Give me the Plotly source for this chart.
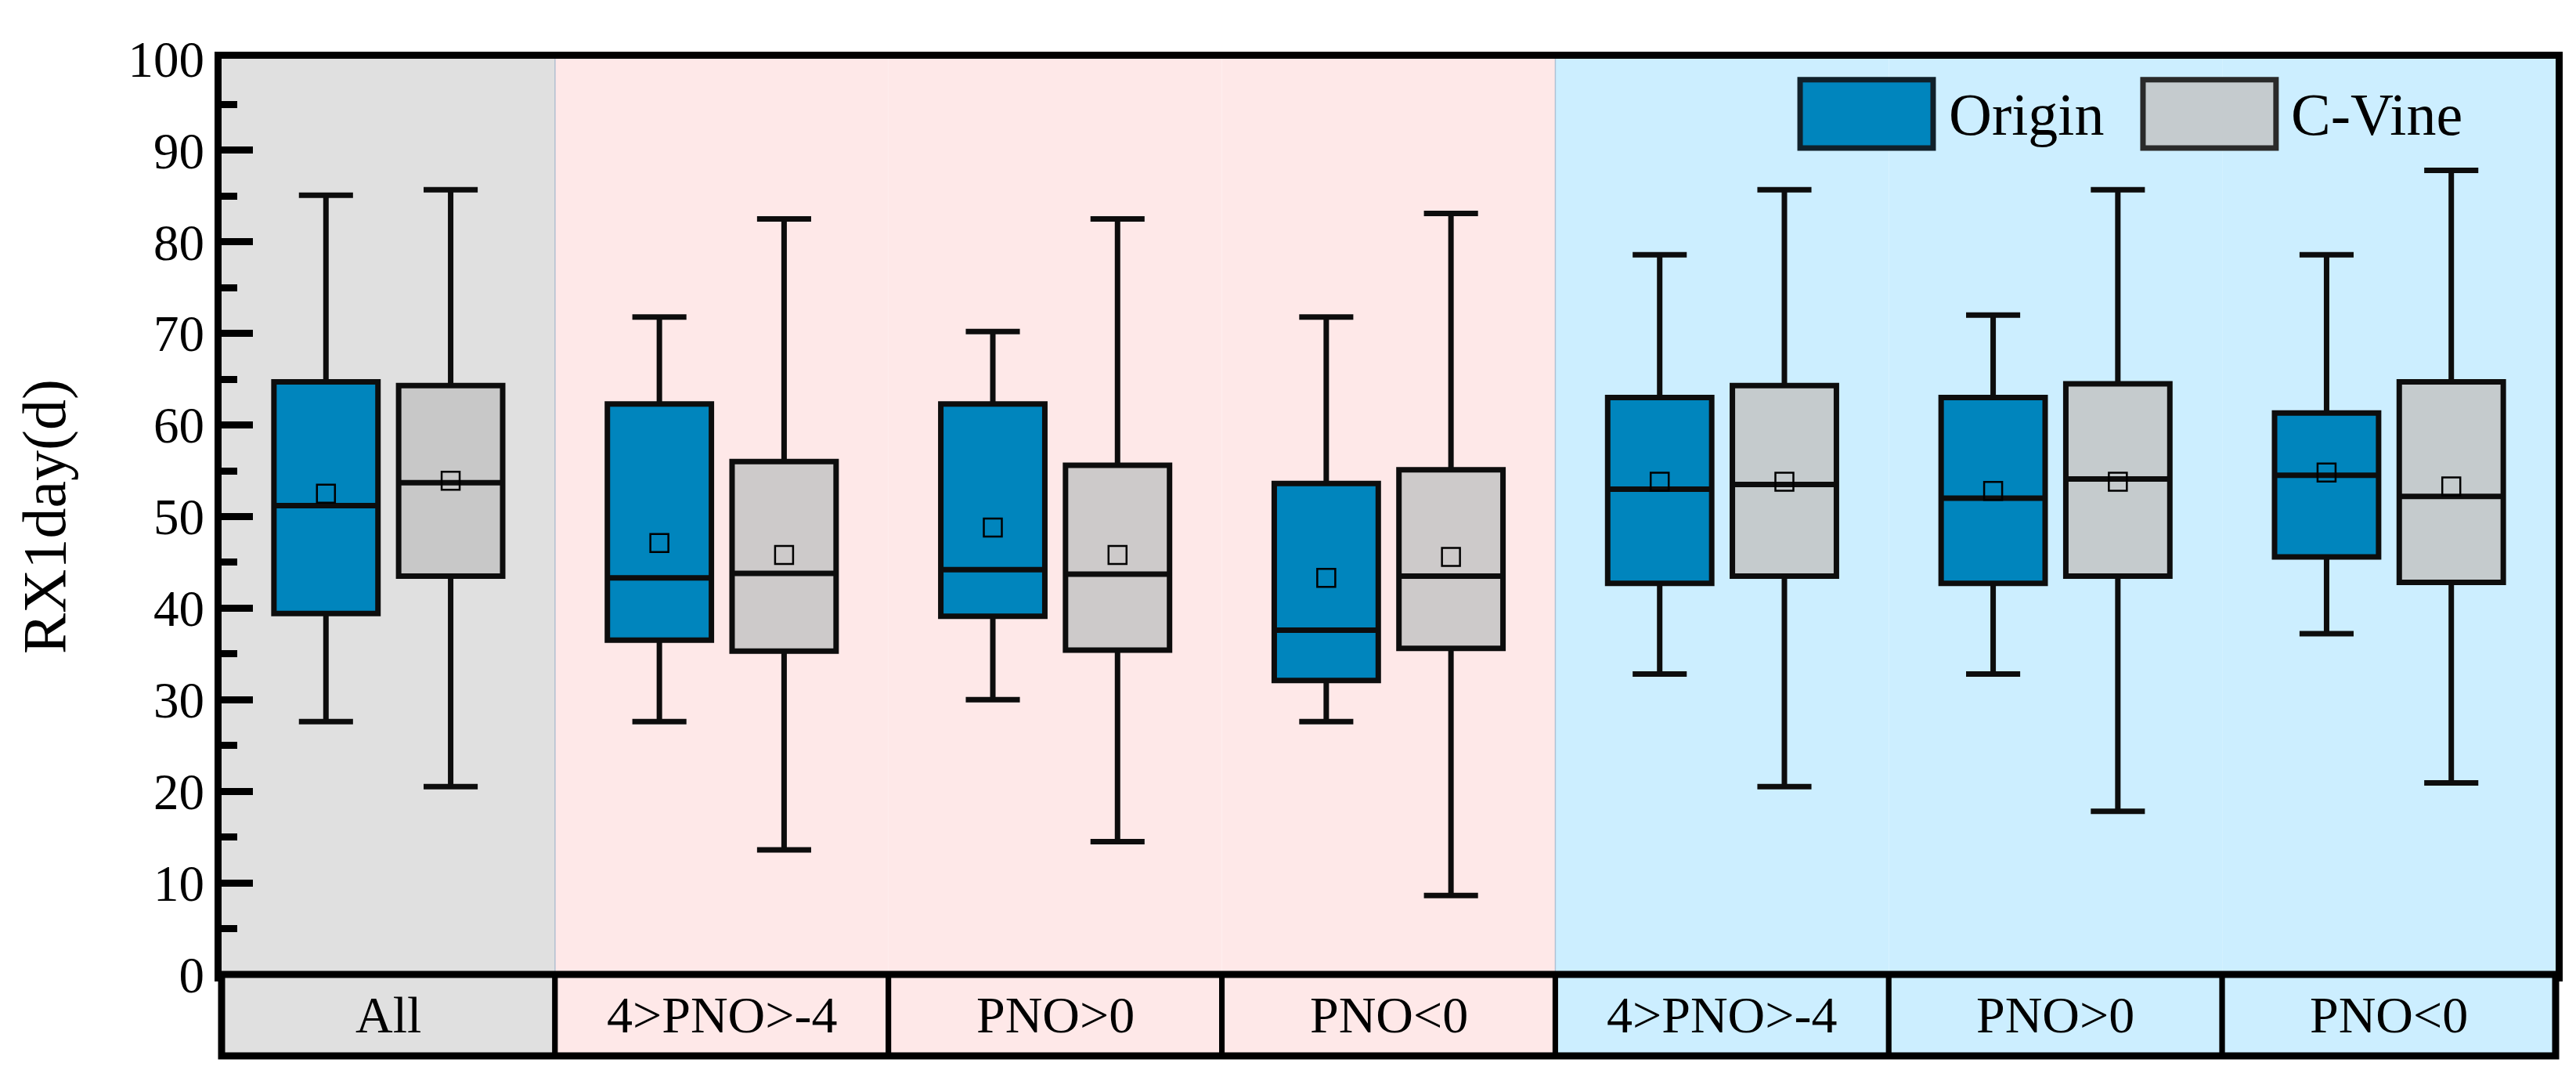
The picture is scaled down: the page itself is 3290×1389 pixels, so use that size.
import plotly.graph_objects as go

# groups along the x axis (left to right)
groups = ["All", "4>PNO>-4", "PNO>0", "PNO<0", "4>PNO>-4", "PNO>0", "PNO<0"]
group_idx = list(range(len(groups)))

# Origin box statistics
origin_hi = [85.1, 71.8, 70.2, 71.8, 78.6, 72.0, 78.6]
origin_q3 = [64.7, 62.3, 62.3, 53.6, 63.0, 63.0, 61.3]
origin_med = [51.2, 43.3, 44.2, 37.6, 53.0, 52.0, 54.5]
origin_q1 = [39.4, 36.5, 39.1, 32.1, 42.7, 42.7, 45.6]
origin_lo = [27.6, 27.6, 30.0, 27.6, 32.8, 32.8, 37.2]
origin_mean = [52.5, 47.1, 48.8, 43.3, 53.8, 52.8, 54.8]

# C-Vine box statistics
cvine_hi = [85.7, 82.5, 82.5, 83.1, 85.7, 85.7, 87.8]
cvine_q3 = [64.3, 56.0, 55.6, 55.1, 64.3, 64.5, 64.7]
cvine_med = [53.7, 43.8, 43.7, 43.5, 53.5, 54.1, 52.2]
cvine_q1 = [43.5, 35.3, 35.4, 35.6, 43.5, 43.5, 42.8]
cvine_lo = [20.5, 13.6, 14.5, 8.6, 20.5, 17.8, 20.9]
cvine_mean = [53.9, 45.8, 45.8, 45.6, 53.8, 53.8, 53.3]

# background colour of each group
group_bg = ["#e0e0e0", "#fee8e8", "#fee8e8", "#fee8e8", "#cceeff", "#cceeff", "#cceeff"]

ORIGIN_COLOR = "#0085bd"
CVINE_COLOR = "rgba(196,196,196,0.84)"
FONT = "Liberation Serif"

off = 0.187   # half distance between the two boxes of a group
bw = 0.312    # box width
x_origin = [i - off for i in group_idx]
x_cvine = [i + off for i in group_idx]

band = 105 / 1284  # height of the category band (paper fraction)

fig = go.Figure()

fig.add_trace(go.Box(
    x=x_origin, q1=origin_q1, median=origin_med, q3=origin_q3,
    lowerfence=origin_lo, upperfence=origin_hi,
    name="Origin", width=bw, whiskerwidth=0.52,
    fillcolor=ORIGIN_COLOR, line=dict(color="#0d0d0d", width=7),
    boxpoints=False, showlegend=False, hoverinfo="skip"))
fig.add_trace(go.Box(
    x=x_cvine, q1=cvine_q1, median=cvine_med, q3=cvine_q3,
    lowerfence=cvine_lo, upperfence=cvine_hi,
    name="C-Vine", width=bw, whiskerwidth=0.52,
    fillcolor=CVINE_COLOR, line=dict(color="#0d0d0d", width=7),
    boxpoints=False, showlegend=False, hoverinfo="skip"))

# mean markers
fig.add_trace(go.Scatter(x=x_origin, y=origin_mean, mode="markers", showlegend=False,
                         marker=dict(symbol="square-open", size=23, color="black",
                                     line=dict(width=2.5, color="black"))))
fig.add_trace(go.Scatter(x=x_cvine, y=cvine_mean, mode="markers", showlegend=False,
                         marker=dict(symbol="square-open", size=23, color="black",
                                     line=dict(width=2.5, color="black"))))

shapes = []
# plot backgrounds
for i, c in zip(group_idx, group_bg):
    shapes.append(dict(type="rect", xref="x", yref="y", x0=i - 0.5, x1=i + 0.5, y0=0, y1=100,
                       fillcolor=c, line=dict(width=0), layer="below"))
for i in (1, 4):
    shapes.append(dict(type="line", xref="x", yref="y", x0=i - 0.5, x1=i - 0.5, y0=0, y1=100,
                       line=dict(width=1.5, color="rgba(150,175,200,0.7)"), layer="below"))
# category band below the axis
for i, c in zip(group_idx, group_bg):
    shapes.append(dict(type="rect", xref="x", yref="paper", x0=i - 0.5, x1=i + 0.5, y0=0, y1=band,
                       fillcolor=c, line=dict(width=7, color="black"), layer="above"))
# thicker outer frame of the band
shapes.append(dict(type="rect", xref="paper", yref="paper", x0=0, x1=1, y0=0, y1=band,
                   line=dict(width=9, color="black"), layer="above"))

# legend swatches
shapes.append(dict(type="rect", xref="paper", yref="paper", x0=0.6763, x1=0.7333, y0=0.9104, y1=0.979,
                   fillcolor=ORIGIN_COLOR, line=dict(width=7, color="#10202a")))
shapes.append(dict(type="rect", xref="paper", yref="paper", x0=0.8232, x1=0.8802, y0=0.9104, y1=0.979,
                   fillcolor="#c5cbce", line=dict(width=7, color="#2a2a2a")))

annotations = []
for i, g in zip(group_idx, groups):
    annotations.append(dict(x=i, y=band / 2, xref="x", yref="paper", text=g, showarrow=False,
                            font=dict(family=FONT, size=66, color="black"),
                            xanchor="center", yanchor="middle"))
annotations.append(dict(x=0.7394, y=0.944, xref="paper", yref="paper", text="Origin", showarrow=False,
                        font=dict(family=FONT, size=76, color="black"), xanchor="left", yanchor="middle"))
annotations.append(dict(x=0.8860, y=0.944, xref="paper", yref="paper", text="C-Vine", showarrow=False,
                        font=dict(family=FONT, size=76, color="black"), xanchor="left", yanchor="middle"))

fig.update_layout(
    width=3290, height=1389,
    margin=dict(l=275, r=34, t=67, b=38),
    paper_bgcolor="white", plot_bgcolor="rgba(0,0,0,0)",
    shapes=shapes, annotations=annotations,
    showlegend=False,
    xaxis=dict(range=[-0.5, 6.5], showgrid=False, zeroline=False, showticklabels=False,
               ticks="", showline=True, linewidth=9, linecolor="black", mirror=True),
    yaxis=dict(domain=[band, 1], range=[0, 100], dtick=10, showgrid=False, zeroline=False,
               ticks="inside", ticklen=40, tickwidth=9, tickcolor="black",
               minor=dict(dtick=5, ticks="inside", ticklen=20, tickwidth=9, tickcolor="black"),
               showline=True, linewidth=9, linecolor="black", mirror=True,
               tickfont=dict(family=FONT, size=65, color="black"),
               title=dict(text="RX1day(d)", font=dict(family=FONT, size=78, color="black"), standoff=58)),
)

fig.write_html("out.html")
